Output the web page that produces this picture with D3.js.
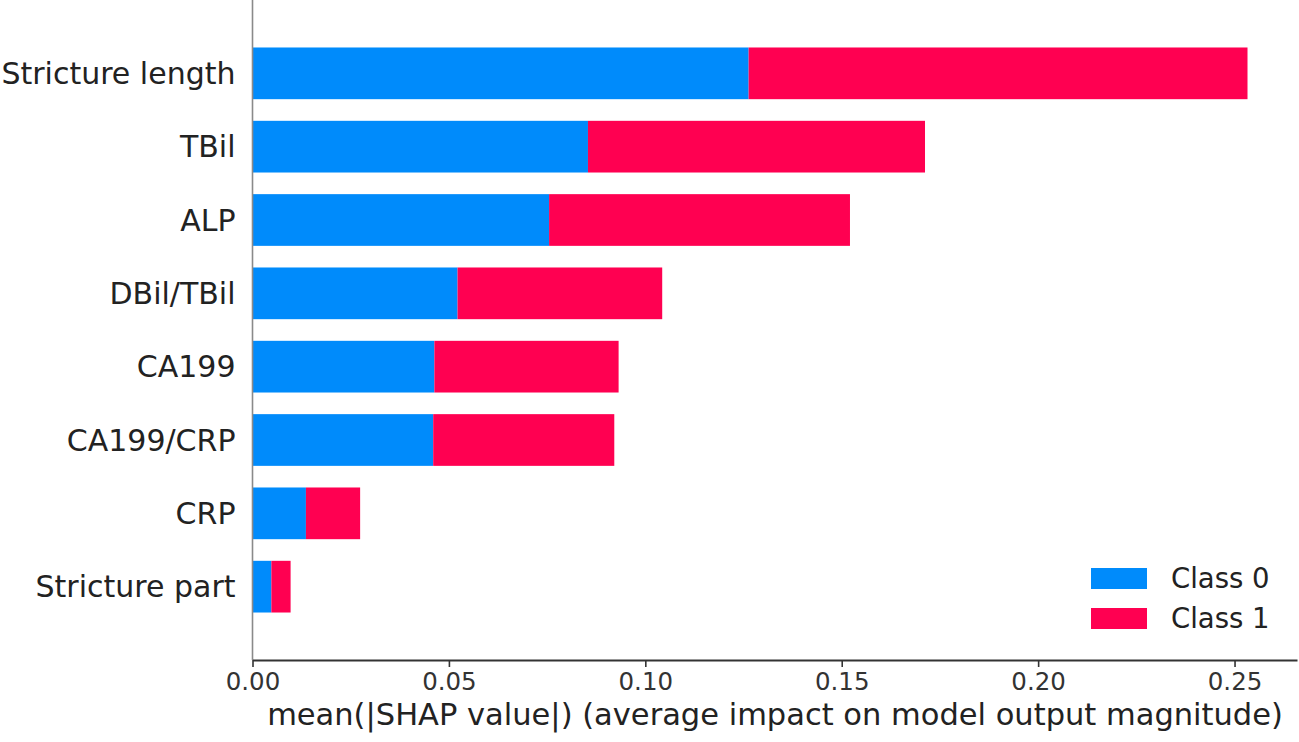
<!DOCTYPE html>
<html>
<head>
<meta charset="utf-8">
<script src="https://cdn.jsdelivr.net/npm/d3@7"></script>
<style>
  body { margin: 0; background: #fff; }
  text { font-family: "DejaVu Sans", sans-serif; fill: #222; }
</style>
</head>
<body>
<div id="chart"></div>
<script>
// features, top to bottom
var features = ["Stricture length", "TBil", "ALP", "DBil/TBil", "CA199", "CA199/CRP", "CRP", "Stricture part"];
var class0 = [0.1263, 0.0854, 0.0755, 0.0522, 0.0463, 0.0460, 0.0136, 0.0048];
var class1 = [0.1270, 0.0858, 0.0766, 0.0521, 0.0469, 0.0461, 0.0138, 0.0049];
var classNames = ["Class 0", "Class 1"];
var colors = ["#008bfb", "#ff0051"];
var xTicks = [0, 0.05, 0.10, 0.15, 0.20, 0.25];

function init() {
    var w = 1299;
    var h = 742;

    var svg = d3.select("#chart")
        .append("svg")
        .attr("width", w)
        .attr("height", h);

    var x = d3.scaleLinear().domain([0, 0.2659]).range([252.5, 1297]);
    // bars sit at 0..7, axis spans -1..8 like the matplotlib version
    var y = d3.scaleLinear().domain([-1, 8]).range([0, 660]);
    var barH = (y(1) - y(0)) * 0.705;

    var rows = features.map(function(f, i) {
        return { name: f, i: i, c0: class0[i], c1: class1[i] };
    });

    // class 0 bars
    svg.selectAll("rect.c0")
        .data(rows)
        .enter()
        .append("rect")
        .attr("class", "c0")
        .attr("x", x(0))
        .attr("y", function(d) { return y(d.i) - barH / 2; })
        .attr("width", function(d) { return x(d.c0) - x(0); })
        .attr("height", barH)
        .style("fill", colors[0]);

    // class 1 stacked after class 0
    svg.selectAll("rect.c1")
        .data(rows)
        .enter()
        .append("rect")
        .attr("class", "c1")
        .attr("x", function(d) { return x(d.c0); })
        .attr("y", function(d) { return y(d.i) - barH / 2; })
        .attr("width", function(d) { return x(d.c0 + d.c1) - x(d.c0); })
        .attr("height", barH)
        .style("fill", colors[1]);

    // feature labels
    svg.selectAll("text.feat")
        .data(rows)
        .enter()
        .append("text")
        .attr("class", "feat")
        .attr("x", x(0) - 17)
        .attr("y", function(d) { return y(d.i); })
        .attr("dy", "0.36em")
        .attr("text-anchor", "end")
        .style("font-size", "30px")
        .text(function(d) { return d.name; });

    // left spine
    svg.append("line")
        .attr("x1", x(0)).attr("x2", x(0))
        .attr("y1", y(-1)).attr("y2", y(8))
        .style("stroke", "#8a8a8a")
        .style("stroke-width", 1.6);

    // bottom axis
    var xAxis = d3.axisBottom(x)
        .tickValues(xTicks)
        .tickSize(7)
        .tickSizeOuter(0)
        .tickPadding(6)
        .tickFormat(d3.format(".2f"));

    var gx = svg.append("g")
        .attr("transform", "translate(0," + y(8) + ")")
        .call(xAxis);
    gx.select(".domain").style("stroke", "#333").style("stroke-width", 2);
    gx.selectAll(".tick line").style("stroke", "#333").style("stroke-width", 1.6);
    gx.selectAll(".tick text")
        .style("font-size", "24.5px")
        .style("font-family", "DejaVu Sans, sans-serif")
        .style("fill", "#333");

    svg.append("text")
        .attr("x", (268 + 1282) / 2)
        .attr("y", 725)
        .attr("text-anchor", "middle")
        .style("font-size", "30.5px")
        .text("mean(|SHAP value|) (average impact on model output magnitude)");

    // legend
    var legend = svg.selectAll("g.legend")
        .data(classNames)
        .enter()
        .append("g")
        .attr("class", "legend")
        .attr("transform", function(d, i) { return "translate(1091," + (578.5 + i * 40) + ")"; });

    legend.append("rect")
        .attr("x", 0)
        .attr("y", -10.5)
        .attr("width", 56)
        .attr("height", 21)
        .style("fill", function(d, i) { return colors[i]; });

    legend.append("text")
        .attr("x", 80)
        .attr("y", 0)
        .attr("dy", "0.36em")
        .style("font-size", "27.5px")
        .text(function(d) { return d; });
}

window.onload = init;
</script>
</body>
</html>
